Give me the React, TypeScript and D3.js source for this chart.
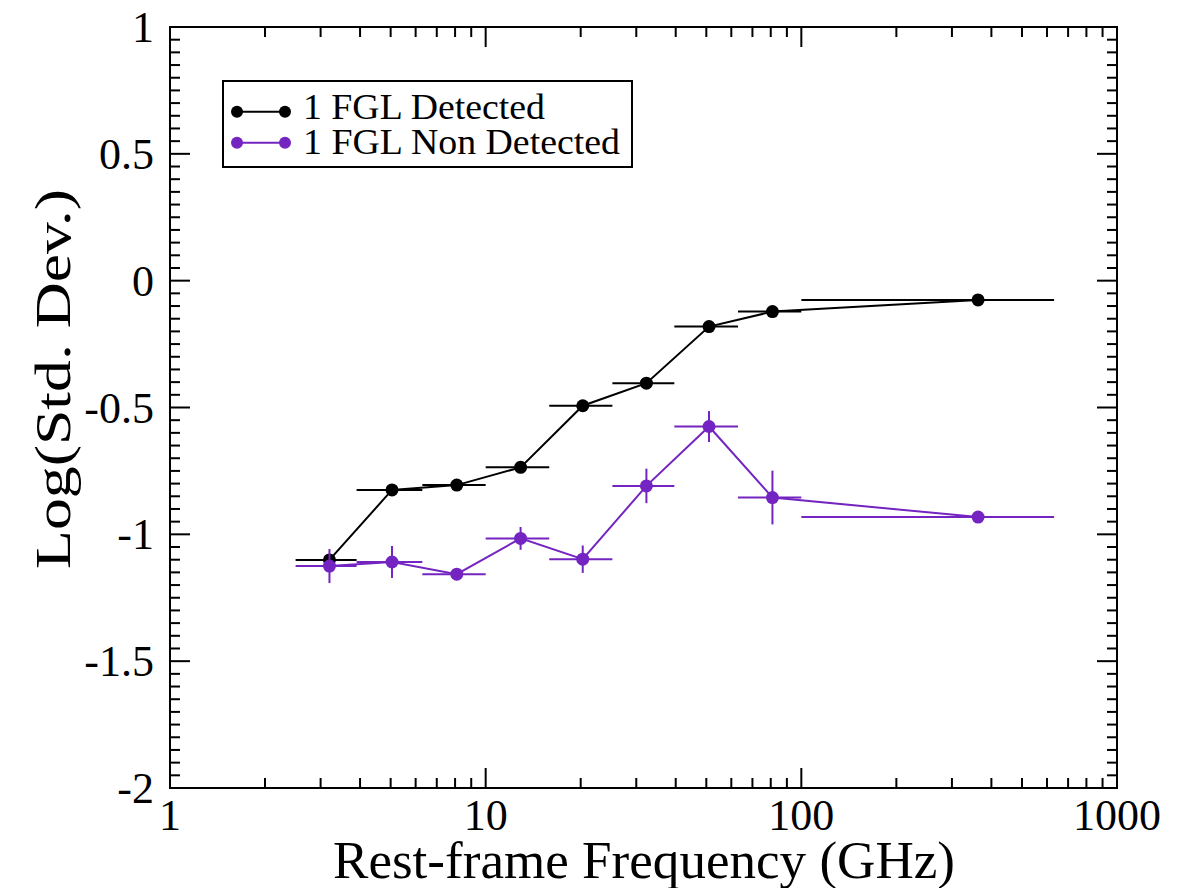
import React from "react";
import * as d3 from "d3";

const detFreq = [3.2, 5.05, 8.1, 12.9, 20.3, 32.3, 51, 81, 363];
const detLo = [2.5, 3.9, 6.3, 10, 15.9, 25.2, 39.6, 63, 100];
const detHi = [3.9, 6.3, 10, 15.9, 25.2, 39.6, 63, 100, 632];
const detVal = [-1.101, -0.825, -0.806, -0.736, -0.493, -0.404, -0.181, -0.122, -0.076];

const nonFreq = [3.2, 5.05, 8.1, 12.9, 20.3, 32.3, 51, 81, 363];
const nonLo = [2.5, 3.9, 6.3, 10, 15.9, 25.2, 39.6, 63, 100];
const nonHi = [3.9, 6.3, 10, 15.9, 25.2, 39.6, 63, 100, 632];
const nonVal = [-1.125, -1.109, -1.157, -1.016, -1.098, -0.809, -0.575, -0.855, -0.932];
const nonErr = [0.067, 0.063, 0.015, 0.045, 0.054, 0.068, 0.061, 0.106, 0.01];

const xTicks = [1, 10, 100, 1000];
const xTickLabels = ["1", "10", "100", "1000"];
const yTicks = [1, 0.5, 0, -0.5, -1, -1.5, -2];
const yTickLabels = ["1", "0.5", "0", "-0.5", "-1", "-1.5", "-2"];

const legendLabels = ["1 FGL Detected", "1 FGL Non Detected"];

const PURPLE = "#7424c0";
const FONT = "'Liberation Serif', 'Times New Roman', serif";

export default function App() {
  const L = 170, R = 1117, T = 27, B = 788;
  const x = d3.scaleLog().domain([1, 1000]).range([L, R]);
  const y = d3.scaleLinear().domain([-2, 1]).range([B, T]);

  const xMinor: number[] = [];
  for (let dec = 1; dec < 1000; dec *= 10) {
    for (let k = 2; k <= 9; k++) xMinor.push(dec * k);
  }
  const yMinor: number[] = [];
  for (let i = 0; i <= 60; i++) {
    const v = -2 + i * 0.05;
    if (Math.abs(v * 2 - Math.round(v * 2)) > 1e-6) yMinor.push(v);
  }

  const path = (fs: number[], vs: number[]) =>
    d3
      .line<[number, number]>()
      .x((d) => x(d[0]))
      .y((d) => y(d[1]))(fs.map((f, i) => [f, vs[i]]) as [number, number][]) || "";

  const MAJ = 20, MIN = 10;
  const legendBase = [119, 154];
  const legendLen = [242, 317];

  return (
    <svg
      width={1192}
      height={888}
      style={{ position: "absolute", left: 0, top: 0, background: "#fff" }}
    >
      {/* ticks */}
      <g stroke="#000" strokeWidth={2}>
        {xTicks.map((t, i) => (
          <g key={"xt" + i}>
            <line x1={x(t)} x2={x(t)} y1={B} y2={B - MAJ} />
            <line x1={x(t)} x2={x(t)} y1={T} y2={T + MAJ} />
          </g>
        ))}
        {xMinor.map((t, i) => (
          <g key={"xm" + i}>
            <line x1={x(t)} x2={x(t)} y1={B} y2={B - MIN} />
            <line x1={x(t)} x2={x(t)} y1={T} y2={T + MIN} />
          </g>
        ))}
        {yTicks.map((t, i) => (
          <g key={"yt" + i}>
            <line x1={L} x2={L + MAJ} y1={y(t)} y2={y(t)} />
            <line x1={R} x2={R - MAJ} y1={y(t)} y2={y(t)} />
          </g>
        ))}
        {yMinor.map((t, i) => (
          <g key={"ym" + i}>
            <line x1={L} x2={L + MIN} y1={y(t)} y2={y(t)} />
            <line x1={R} x2={R - MIN} y1={y(t)} y2={y(t)} />
          </g>
        ))}
      </g>
      <rect x={L} y={T} width={R - L} height={B - T} fill="none" stroke="#000" strokeWidth={2} />

      {/* tick labels */}
      <g fontFamily={FONT} fontSize={44} fill="#000">
        {xTicks.map((t, i) => (
          <text key={"xl" + i} x={x(t)} y={B + 42} textAnchor="middle">
            {xTickLabels[i]}
          </text>
        ))}
        {yTicks.map((t, i) => (
          <text key={"yl" + i} x={L - 16} y={y(t) + 15} textAnchor="end">
            {yTickLabels[i]}
          </text>
        ))}
      </g>

      {/* axis titles */}
      <text
        x={333}
        y={878}
        fontFamily={FONT}
        fontSize={52}
        textLength={622}
        lengthAdjust="spacingAndGlyphs"
      >
        Rest-frame Frequency (GHz)
      </text>
      <text
        transform={`translate(70, 569) rotate(-90)`}
        fontFamily={FONT}
        fontSize={51}
        textLength={380}
        lengthAdjust="spacingAndGlyphs"
      >
        Log(Std. Dev.)
      </text>

      {/* Detected series */}
      <g>
        {detFreq.map((f, i) => (
          <line
            key={"dh" + i}
            x1={x(detLo[i])}
            x2={x(detHi[i])}
            y1={y(detVal[i])}
            y2={y(detVal[i])}
            stroke="#000"
            strokeWidth={2}
          />
        ))}
        <path d={path(detFreq, detVal)} fill="none" stroke="#000" strokeWidth={2} />
        {detFreq.map((f, i) => (
          <circle key={"dc" + i} cx={x(f)} cy={y(detVal[i])} r={6.5} fill="#000" />
        ))}
      </g>

      {/* Non detected series */}
      <g>
        {nonFreq.map((f, i) => (
          <g key={"nh" + i} stroke={PURPLE} strokeWidth={2}>
            <line x1={x(nonLo[i])} x2={x(nonHi[i])} y1={y(nonVal[i])} y2={y(nonVal[i])} />
            <line
              x1={x(f)}
              x2={x(f)}
              y1={y(nonVal[i] - nonErr[i])}
              y2={y(nonVal[i] + nonErr[i])}
            />
          </g>
        ))}
        <path d={path(nonFreq, nonVal)} fill="none" stroke={PURPLE} strokeWidth={2} />
        {nonFreq.map((f, i) => (
          <circle key={"nc" + i} cx={x(f)} cy={y(nonVal[i])} r={6.5} fill={PURPLE} />
        ))}
      </g>

      {/* legend */}
      <rect x={223} y={81} width={409} height={86} fill="#fff" stroke="#000" strokeWidth={2} />
      {legendLabels.map((lab, i) => {
        const cy = 111.7 + i * 31;
        const col = i === 0 ? "#000" : PURPLE;
        return (
          <g key={"lg" + i}>
            <line x1={237} x2={285} y1={cy} y2={cy} stroke={col} strokeWidth={2} />
            <circle cx={237} cy={cy} r={6} fill={col} />
            <circle cx={285} cy={cy} r={6} fill={col} />
            <text
              x={303}
              y={legendBase[i]}
              fontFamily={FONT}
              fontSize={35}
              textLength={legendLen[i]}
              lengthAdjust="spacingAndGlyphs"
            >
              {lab}
            </text>
          </g>
        );
      })}
    </svg>
  );
}
